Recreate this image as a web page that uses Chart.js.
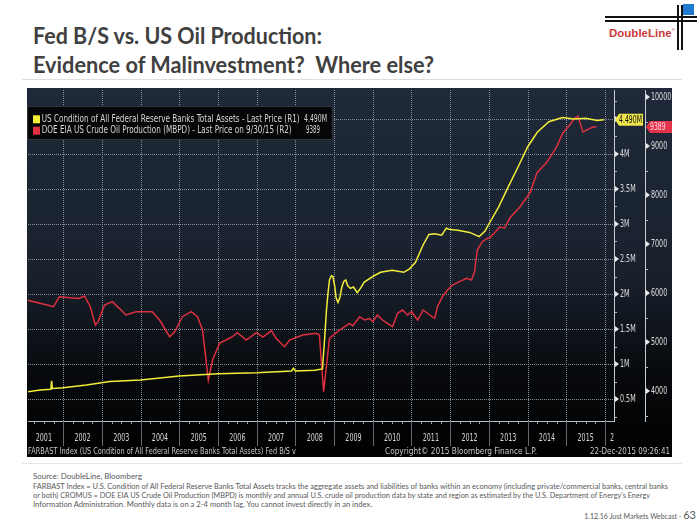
<!DOCTYPE html>
<html>
<head>
<meta charset="utf-8">
<script src="https://cdn.jsdelivr.net/npm/chart.js@4/dist/chart.umd.min.js"></script>
<style>
  body { margin: 0; width: 700px; height: 525px; background: #fff; position: relative; overflow: hidden; font-family: Lato, sans-serif; }
  .abs { position: absolute; white-space: nowrap; }
  .title { left: 33px; font: 700 22px Lato, sans-serif; color: #404040; transform-origin: 0 50%; }
  .note { left: 33px; font: 400 7.5px Lato, sans-serif; color: #595959; transform-origin: 0 50%; }
  .rule { position: absolute; height: 1px; background: #dedede; }
  .logo-line { position: absolute; background: #111; }
</style>
</head>
<body>
<div class="abs title" id="t1" style="top:22px">Fed B/S vs. US Oil Production:</div>
<div class="abs title" id="t2" style="top:51px">Evidence of Malinvestment?&nbsp; Where else?</div>

<!-- logo -->
<div class="logo-line" style="left:605px;top:16px;width:92px;height:1.5px"></div>
<div class="logo-line" style="left:605px;top:20px;width:92px;height:1.5px"></div>
<div class="logo-line" style="left:677px;top:5px;width:1.5px;height:45px"></div>
<div class="logo-line" style="left:681px;top:5px;width:1.5px;height:45px"></div>
<div style="position:absolute;left:683px;top:4px;width:11px;height:11px;background:#1f7ad2"></div>
<div class="abs" style="left:609px;top:27px;font:700 11.5px 'Liberation Sans',Arial,sans-serif;color:#cc3a3c">DoubleLine<span style="font-size:4px;vertical-align:top">®</span></div>

<div class="rule" style="left:22px;top:79px;width:660px"></div>

<div style="position:absolute;left:27px;top:88px;width:645px;height:369px">
  <canvas id="chart" width="645" height="369"></canvas>
</div>

<div class="rule" style="left:22px;top:463px;width:660px;background:#e6e6e6"></div>
<div class="abs note" id="n0" style="top:472px">Source: DoubleLine, Bloomberg</div>
<div class="abs note" id="n1" style="top:482px">FARBAST Index = U.S. Condition of All Federal Reserve Banks Total Assets tracks the aggregate assets and liabilities of banks within an economy (including private/commercial banks, central banks</div>
<div class="abs note" id="n2" style="top:491px">or both) CROMUS = DOE EIA US Crude Oil Production (MBPD) is monthly and annual U.S. crude oil production data by state and region as estimated by the U.S. Department of Energy's Energy</div>
<div class="abs note" id="n3" style="top:500px">Information Administration. Monthly data is on a 2-4 month lag. You cannot invest directly in an index.</div>
<div class="abs" style="right:4px;top:508px;color:#595959;font:400 7px Lato,sans-serif">1.12.16 Just Markets Webcast - <span style="font-size:11px">63</span></div>

<script>
// Fed balance sheet (R1, "M" = millions of USD millions)
const fedYears = [2001.05, 2001.40, 2001.68, 2001.70, 2001.72, 2002.00, 2002.60, 2002.95, 2003.20, 2004.00,
  2005.00, 2006.00, 2007.00, 2007.90, 2007.95, 2008.00, 2008.50, 2008.70, 2008.76, 2008.80,
  2008.84, 2008.88, 2008.93, 2008.97, 2009.02, 2009.05, 2009.10, 2009.15, 2009.20, 2009.25,
  2009.30, 2009.35, 2009.42, 2009.50, 2009.60, 2009.68, 2009.78, 2010.00, 2010.20, 2010.50,
  2010.80, 2010.95, 2011.10, 2011.30, 2011.45, 2011.60, 2011.78, 2011.90, 2012.00, 2012.20,
  2012.50, 2012.75, 2012.90, 2013.00, 2013.25, 2013.50, 2013.75, 2014.00, 2014.25, 2014.55,
  2014.90, 2015.20, 2015.50, 2015.80, 2015.97]
const fedAssets = [0.60, 0.63, 0.64, 0.76, 0.65, 0.66, 0.70, 0.73, 0.75, 0.77,
  0.83, 0.86, 0.875, 0.90, 0.94, 0.90, 0.91, 0.93, 1.40, 1.75,
  2.00, 2.20, 2.26, 2.25, 2.10, 1.95, 1.88, 1.95, 2.10, 2.18,
  2.20, 2.12, 2.08, 2.10, 2.02, 2.08, 2.17, 2.25, 2.31, 2.34,
  2.31, 2.36, 2.45, 2.70, 2.85, 2.86, 2.84, 2.94, 2.92, 2.91,
  2.88, 2.82, 2.90, 3.00, 3.24, 3.53, 3.81, 4.10, 4.31, 4.46,
  4.52, 4.50, 4.51, 4.48, 4.49]

// US crude oil production (R2, thousand barrels per day)
const oilYears = [2001.05, 2001.40, 2001.75, 2001.90, 2002.40, 2002.55, 2002.70, 2002.83, 2002.90, 2003.07,
  2003.27, 2003.45, 2003.62, 2003.88, 2004.14, 2004.30, 2004.49, 2004.75, 2004.88, 2005.08,
  2005.31, 2005.47, 2005.60, 2005.75, 2005.86, 2006.04, 2006.37, 2006.50, 2006.73, 2006.99,
  2007.16, 2007.38, 2007.50, 2007.72, 2007.85, 2008.19, 2008.54, 2008.62, 2008.73, 2008.88,
  2009.14, 2009.40, 2009.48, 2009.66, 2009.79, 2009.92, 2010.00, 2010.12, 2010.25, 2010.38,
  2010.51, 2010.64, 2010.77, 2010.90, 2011.00, 2011.16, 2011.30, 2011.47, 2011.60, 2011.67,
  2011.80, 2011.93, 2012.06, 2012.24, 2012.42, 2012.55, 2012.63, 2012.70, 2012.83, 2012.96,
  2013.02, 2013.28, 2013.41, 2013.54, 2013.80, 2014.06, 2014.24, 2014.50, 2014.75, 2014.91,
  2015.09, 2015.22, 2015.30, 2015.43, 2015.56, 2015.69, 2015.78]
const oilOutput = [5857, 5790, 5720, 5925, 5890, 5940, 5720, 5347, 5415, 5755,
  5823, 5687, 5551, 5619, 5619, 5619, 5449, 5108, 5210, 5517,
  5619, 5517, 5245, 4224, 4633, 4973, 5108, 5190, 5041, 5190,
  5100, 5231, 5075, 4905, 5041, 5143, 5177, 5143, 3986, 5075,
  5245, 5381, 5330, 5517, 5449, 5480, 5415, 5551, 5449, 5381,
  5313, 5585, 5653, 5551, 5619, 5449, 5653, 5551, 5483, 5721,
  5925, 6061, 6163, 6231, 6299, 6265, 6435, 6878, 7048, 7116,
  7122, 7347, 7327, 7531, 7755, 8040, 8449, 8673, 8980, 9265,
  9429, 9571, 9610, 9286, 9340, 9388, 9389]

const yearLabels = ['2001', '2002', '2003', '2004', '2005', '2006', '2007', '2008',
  '2009', '2010', '2011', '2012', '2013', '2014', '2015', '2']
const r1Ticks = [0.5, 1, 1.5, 2, 2.5, 3, 3.5, 4, 4.5]
const r2Ticks = [4000, 5000, 6000, 7000, 8000, 9000, 10000]

const fedLabel = 'US Condition of All Federal Reserve Banks Total Assets - Last Price (R1)'
const oilLabel = 'DOE EIA US Crude Oil Production (MBPD) - Last Price on 9/30/15 (R2)'
const YELLOW = '#f2ee3a'
const RED = '#e0303f'

const fedLast = fedAssets[fedAssets.length - 1].toFixed(3) + 'M'
const oilLast = String(oilOutput[oilOutput.length - 1])

// draw horizontally condensed text, like the Bloomberg terminal font
function sq(ctx, txt, x, y, o) {
  ctx.save()
  ctx.font = (o.size || 10) + 'px "DejaVu Sans"'
  let sx = o.sx || 0.6
  if (o.width) sx = o.width / ctx.measureText(txt).width
  ctx.translate(x, y)
  ctx.scale(sx, 1)
  ctx.fillStyle = o.color || '#d6d6d6'
  ctx.textAlign = o.align || 'left'
  ctx.textBaseline = 'middle'
  ctx.fillText(txt, 0, 0)
  ctx.restore()
}

function seg(ctx, x1, y1, x2, y2) {
  ctx.beginPath()
  ctx.moveTo(x1, y1)
  ctx.lineTo(x2, y2)
  ctx.stroke()
}

const bbg = {
  id: 'bbg',
  beforeDraw(chart) {
    const {ctx, width, height} = chart
    const g = ctx.createLinearGradient(0, 0, 0, height)
    g.addColorStop(0, '#1f2939')
    g.addColorStop(0.5, '#19212d')
    g.addColorStop(0.78, '#07090c')
    g.addColorStop(1, '#000')
    ctx.save()
    ctx.fillStyle = g
    ctx.fillRect(0, 0, width, height)
    ctx.restore()
  },
  beforeDatasetsDraw(chart) {
    const {ctx, chartArea: a, scales: {x, y}} = chart
    ctx.save()
    ctx.strokeStyle = '#848d9a'
    ctx.lineWidth = 1
    ctx.setLineDash([1, 1])
    r1Ticks.forEach(v => {
      const py = Math.round(y.getPixelForValue(v)) + 0.5
      seg(ctx, a.left, py, a.right, py)
    })
    for (let yr = 2002; yr <= 2016; yr++) {
      const px = Math.round(x.getPixelForValue(yr)) + 0.5
      if (px < a.right) seg(ctx, px, a.top, px, a.bottom)
    }
    ctx.restore()
  },
  afterDraw(chart) {
    const {ctx, chartArea: a, scales: {x, y, y2}} = chart
    ctx.save()

    // bottom band: year separators, quarter ticks, labels
    ctx.strokeStyle = '#62676e'
    ctx.lineWidth = 1
    for (let yr = 2002; yr <= 2016; yr++) {
      const px = Math.round(x.getPixelForValue(yr)) + 0.5
      if (px < a.right) seg(ctx, px, a.bottom, px, a.bottom + 25)
    }
    ctx.strokeStyle = '#a0a5ad'
    for (let q = 2001.25; q < 2016.25; q += 0.25) {
      if (q % 1 === 0) continue
      const px = Math.round(x.getPixelForValue(q)) + 0.5
      if (px > a.left && px < a.right) seg(ctx, px, a.bottom, px, a.bottom + 3)
    }
    yearLabels.forEach((lab, i) => {
      const v = i < 15 ? 2001.5 + i : 2016.18
      sq(ctx, lab, x.getPixelForValue(v), a.bottom + 17, {size: 11, sx: 0.58, align: 'center'})
    })

    // right axes: triangles, minor ticks, labels
    const drawAxis = (scale, ticks, step, fmt) => {
      const ax = scale.left
      ctx.strokeStyle = '#b5bac2'
      ticks.forEach(v => {
        [v - step / 2, v + step / 2].forEach(m => {
          const my = Math.round(scale.getPixelForValue(m)) + 0.5
          if (my > scale.top && my < scale.bottom) seg(ctx, ax, my, ax + 3, my)
        })
        const py = scale.getPixelForValue(v)
        ctx.fillStyle = '#e8e8e8'
        ctx.beginPath()
        ctx.moveTo(ax + 1, py - 3)
        ctx.lineTo(ax + 5, py)
        ctx.lineTo(ax + 1, py + 3)
        ctx.closePath()
        ctx.fill()
        sq(ctx, fmt(v), ax + 6, py, {size: 11, sx: 0.58, color: '#dcdcdc'})
      })
    }
    drawAxis(y, r1Ticks, 0.5, v => v + 'M')
    drawAxis(y2, r2Ticks, 1000, v => String(v))

    // last-value tags
    const tag = (ax, py, w, fill, txt, col) => {
      ctx.fillStyle = fill
      ctx.beginPath()
      ctx.moveTo(ax + 1, py)
      ctx.lineTo(ax + 5, py - 6)
      ctx.lineTo(ax + w, py - 6)
      ctx.lineTo(ax + w, py + 6)
      ctx.lineTo(ax + 5, py + 6)
      ctx.closePath()
      ctx.fill()
      sq(ctx, txt, ax + 5, py + 0.5, {size: 11, sx: 0.56, color: col})
    }
    tag(y.left, y.getPixelForValue(fedAssets[fedAssets.length - 1]), 29, '#efe64b', fedLast, '#111')
    tag(y2.left, y2.getPixelForValue(oilOutput[oilOutput.length - 1]), 27, '#e3334b', oilLast, '#ffd6de')

    // legend box
    ctx.fillStyle = '#050607'
    ctx.fillRect(0, 18, 306, 34)
    ctx.strokeStyle = '#30353c'
    ctx.strokeRect(0.5, 18.5, 305, 33)
    const sets = chart.data.datasets
    ;[[sets[0], fedLast, 31.3, 258, 277, 23], [sets[1], oilLast, 42.7, 250, 279, 14]].forEach(([ds, val, ly, w, vx, vw]) => {
      ctx.fillStyle = ds.borderColor
      ctx.fillRect(6, ly - 4, 7, 8)
      sq(ctx, ds.label, 14.7, ly, {size: 10, width: w})
      sq(ctx, val, vx, ly, {size: 10, width: vw})
    })

    // footer line inside the panel
    const fy = 363.5
    sq(ctx, 'FARBAST Index (US Condition of All Federal Reserve Banks Total Assets) Fed B/S v', 1, fy, {size: 9.5, width: 268, color: '#c8c8c8'})
    sq(ctx, 'Copyright\u00a9 2015 Bloomberg Finance L.P.', 358, fy, {size: 9.5, width: 152, color: '#c8c8c8'})
    sq(ctx, '22-Dec-2015 09:26:41', 643, fy, {size: 9.5, width: 80, color: '#c8c8c8', align: 'right'})
    ctx.restore()
  }
}

new Chart(document.getElementById('chart').getContext('2d'), {
  type: 'line',
  data: {
    datasets: [
      {
        label: fedLabel,
        data: fedYears.map((t, i) => ({x: t, y: fedAssets[i]})),
        yAxisID: 'y',
        borderColor: YELLOW,
        borderWidth: 1.5,
        pointRadius: 0,
        tension: 0
      },
      {
        label: oilLabel,
        data: oilYears.map((t, i) => ({x: t, y: oilOutput[i]})),
        yAxisID: 'y2',
        borderColor: RED,
        borderWidth: 1.5,
        pointRadius: 0,
        tension: 0
      }
    ]
  },
  options: {
    responsive: false,
    animation: false,
    events: [],
    layout: {padding: {left: 1, top: 2, right: 0, bottom: 0}},
    plugins: {legend: {display: false}, tooltip: {enabled: false}},
    scales: {
      x: {
        type: 'linear', min: 2001.09, max: 2016.233,
        grid: {display: false}, ticks: {display: false},
        border: {display: true, color: '#b8bdc5'},
        afterFit: s => { s.height = 36 }
      },
      y: {
        position: 'right', weight: 0, min: 0.186, max: 4.914,
        grid: {display: false}, ticks: {display: false},
        border: {display: true, color: '#c7ccd3'},
        afterBuildTicks: s => { s.ticks = r1Ticks.map(v => ({value: v})) },
        afterFit: s => { s.width = 31 }
      },
      y2: {
        position: 'right', weight: 1, min: 3388, max: 10143,
        grid: {display: false}, ticks: {display: false},
        border: {display: true, color: '#c7ccd3'},
        afterBuildTicks: s => { s.ticks = r2Ticks.map(v => ({value: v})) },
        afterFit: s => { s.width = 27 }
      }
    }
  },
  plugins: [bbg]
})

// squeeze the slide text to the widths of the original slide font
const fitTo = (id, w) => {
  const el = document.getElementById(id)
  const r = el.getBoundingClientRect().width
  el.style.transform = 'scaleX(' + (w / r) + ')'
}
fitTo('t1', 289)
fitTo('t2', 401)
fitTo('n0', 109)
fitTo('n1', 635)
fitTo('n2', 617)
fitTo('n3', 339)
</script>
</body>
</html>
